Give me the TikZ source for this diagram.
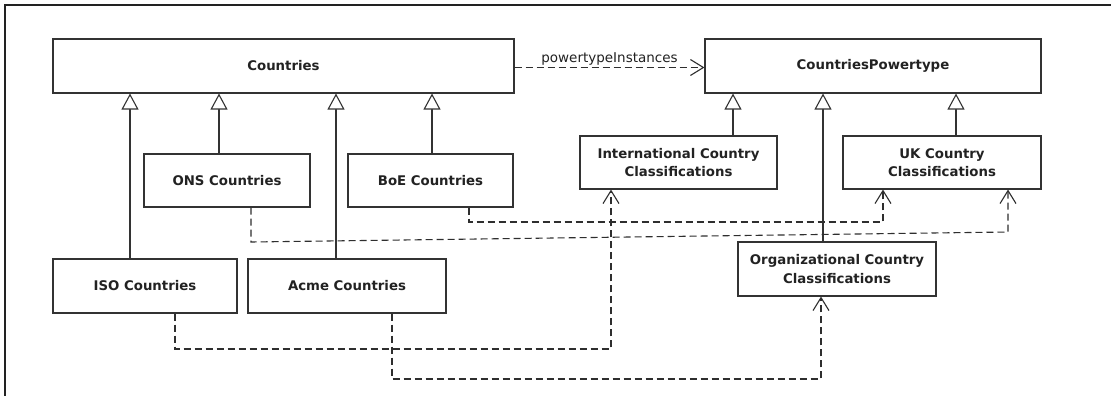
\documentclass[tikz,border=0pt]{standalone}
\usepackage{fontspec}
\setmainfont{DejaVu Sans}
\usetikzlibrary{arrows.meta}
\definecolor{ink}{HTML}{222222}
\definecolor{linegray}{HTML}{333333}
\definecolor{dashgray}{HTML}{2e2e2e}
\begin{document}
\begin{tikzpicture}[x=1pt,y=-1pt,
  cls/.style={draw=linegray, line width=1.1pt, fill=white, inner sep=0pt,
    align=center, text=ink, font=\fontsize{13.3}{18.5}\selectfont\bfseries},
  gen/.style={draw=linegray, line width=1.1pt,
    -{Triangle[open,length=16pt,width=17pt,fill=white]}},
  dep/.style={draw=dashgray, line width=1.1pt, dash pattern=on 7pt off 4pt,
    -{Straight Barb[length=13pt,width=16pt]}},
  lbl/.style={text=ink, font=\fontsize{13.5}{16}\selectfont, inner sep=1.5pt},
]
% canvas and frame
\useasboundingbox (0,0) rectangle (1111,396);
\fill[white] (0,0) rectangle (1111,396);
\draw[ink, line width=1.7pt] (5,396) -- (5,5) -- (1111,5);

% classes
\node[cls, minimum width=461pt, minimum height=54pt] (countries) at (283.5,66) {Countries};
\node[cls, minimum width=336pt, minimum height=54pt] (ctp) at (873,66) {CountriesPowertype};
\node[cls, minimum width=166pt, minimum height=53pt] (ons) at (227,180.5) {ONS Countries};
\node[cls, minimum width=165pt, minimum height=53pt] (boe) at (430.5,180.5) {BoE Countries};
\node[cls, minimum width=184pt, minimum height=54pt] (iso) at (145,286) {ISO Countries};
\node[cls, minimum width=198pt, minimum height=54pt] (acme) at (347,286) {Acme Countries};
\node[cls, minimum width=197pt, minimum height=53pt] (intl) at (678.5,162.5) {International Country\\Classifications};
\node[cls, minimum width=198pt, minimum height=53pt] (uk) at (942,162.5) {UK Country\\Classifications};
\node[cls, minimum width=198pt, minimum height=54pt] (org) at (837,269) {Organizational Country\\Classifications};

% columns of the generalization lines
\coordinate (gIso) at (130,0);
\coordinate (gOns) at (219,0);
\coordinate (gAcme) at (336,0);
\coordinate (gBoe) at (432,0);
\coordinate (gIntl) at (733,0);
\coordinate (gOrg) at (823,0);
\coordinate (gUk) at (956,0);

% generalizations
\draw[gen] (iso.north -| gIso) -- (countries.south -| gIso);
\draw[gen] (ons.north -| gOns) -- (countries.south -| gOns);
\draw[gen] (acme.north -| gAcme) -- (countries.south -| gAcme);
\draw[gen] (boe.north -| gBoe) -- (countries.south -| gBoe);
\draw[gen] (intl.north -| gIntl) -- (ctp.south -| gIntl);
\draw[gen] (org.north -| gOrg) -- (ctp.south -| gOrg);
\draw[gen] (uk.north -| gUk) -- (ctp.south -| gUk);

% powertype dependency
\draw[dep] ([yshift=-1.5pt]countries.east) -- node[lbl, above] {powertypeInstances} ([yshift=-1.5pt]ctp.west);

% bends of the instance dependencies
\coordinate (bBoeA) at (469,222);  \coordinate (bBoeB) at (883,222);
\coordinate (bOnsA) at (251,242);  \coordinate (bOnsB) at (1008,232);
\coordinate (bIsoA) at (175,349);  \coordinate (bIsoB) at (611,349);
\coordinate (bAcmeA) at (392,379); \coordinate (bAcmeB) at (821,379);

% instance dependencies
\draw[dep] (boe.south -| bBoeA) -- (bBoeA) -- (bBoeB) -- (uk.south -| bBoeB);
\draw[dep] (ons.south -| bOnsA) -- (bOnsA) -- (bOnsB) -- (uk.south -| bOnsB);
\draw[dep] (iso.south -| bIsoA) -- (bIsoA) -- (bIsoB) -- (intl.south -| bIsoB);
\draw[dep] (acme.south -| bAcmeA) -- (bAcmeA) -- (bAcmeB) -- (org.south -| bAcmeB);
\end{tikzpicture}
\end{document}
